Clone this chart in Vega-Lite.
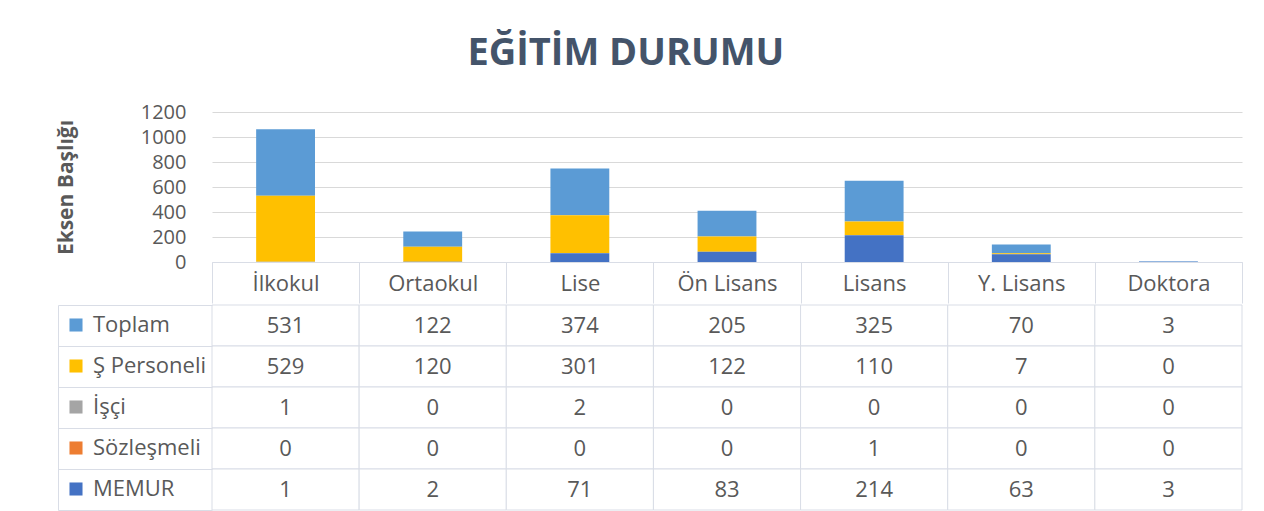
{
  "$schema": "https://vega.github.io/schema/vega-lite/v6.json",
  "background": "white",
  "padding": {"left": 55, "top": 35, "right": 20, "bottom": 0},
  "title": {"text": "EĞİTİM DURUMU", "font": "Open Sans", "fontSize": 38, "fontWeight": "bold", "color": "#44546a", "anchor": "middle", "offset": 29, "dx": -23},
  "datasets": {
    "d": [
      {"cat": "İlkokul", "series": "Toplam", "value": 531},
      {"cat": "Ortaokul", "series": "Toplam", "value": 122},
      {"cat": "Lise", "series": "Toplam", "value": 374},
      {"cat": "Ön Lisans", "series": "Toplam", "value": 205},
      {"cat": "Lisans", "series": "Toplam", "value": 325},
      {"cat": "Y. Lisans", "series": "Toplam", "value": 70},
      {"cat": "Doktora", "series": "Toplam", "value": 3},
      {"cat": "İlkokul", "series": "Ş Personeli", "value": 529},
      {"cat": "Ortaokul", "series": "Ş Personeli", "value": 120},
      {"cat": "Lise", "series": "Ş Personeli", "value": 301},
      {"cat": "Ön Lisans", "series": "Ş Personeli", "value": 122},
      {"cat": "Lisans", "series": "Ş Personeli", "value": 110},
      {"cat": "Y. Lisans", "series": "Ş Personeli", "value": 7},
      {"cat": "Doktora", "series": "Ş Personeli", "value": 0},
      {"cat": "İlkokul", "series": "İşçi", "value": 1},
      {"cat": "Ortaokul", "series": "İşçi", "value": 0},
      {"cat": "Lise", "series": "İşçi", "value": 2},
      {"cat": "Ön Lisans", "series": "İşçi", "value": 0},
      {"cat": "Lisans", "series": "İşçi", "value": 0},
      {"cat": "Y. Lisans", "series": "İşçi", "value": 0},
      {"cat": "Doktora", "series": "İşçi", "value": 0},
      {"cat": "İlkokul", "series": "Sözleşmeli", "value": 0},
      {"cat": "Ortaokul", "series": "Sözleşmeli", "value": 0},
      {"cat": "Lise", "series": "Sözleşmeli", "value": 0},
      {"cat": "Ön Lisans", "series": "Sözleşmeli", "value": 0},
      {"cat": "Lisans", "series": "Sözleşmeli", "value": 1},
      {"cat": "Y. Lisans", "series": "Sözleşmeli", "value": 0},
      {"cat": "Doktora", "series": "Sözleşmeli", "value": 0},
      {"cat": "İlkokul", "series": "MEMUR", "value": 1},
      {"cat": "Ortaokul", "series": "MEMUR", "value": 2},
      {"cat": "Lise", "series": "MEMUR", "value": 71},
      {"cat": "Ön Lisans", "series": "MEMUR", "value": 83},
      {"cat": "Lisans", "series": "MEMUR", "value": 214},
      {"cat": "Y. Lisans", "series": "MEMUR", "value": 63},
      {"cat": "Doktora", "series": "MEMUR", "value": 3}
    ],
    "ser": [
      {"series": "MEMUR", "ord": 1},
      {"series": "Sözleşmeli", "ord": 2},
      {"series": "İşçi", "ord": 3},
      {"series": "Ş Personeli", "ord": 4},
      {"series": "Toplam", "ord": 5}
    ]
  },
  "spacing": 0,
  "resolve": {"legend": {"color": "independent"}},
  "config": {
    "view": {"stroke": null},
    "font": "Open Sans",
    "axis": {"labelFont": "Open Sans", "titleFont": "Open Sans"},
    "legend": {"labelFont": "Open Sans"}
  },
  "vconcat": [
    {
      "width": 1030,
      "height": 150,
      "data": {"name": "d"},
      "transform": [
        {"lookup": "series", "from": {"data": {"name": "ser"}, "key": "series", "fields": ["ord"]}}
      ],
      "mark": {"type": "bar", "width": {"band": 0.4}},
      "encoding": {
        "x": {
          "field": "cat", "type": "nominal",
          "sort": ["İlkokul", "Ortaokul", "Lise", "Ön Lisans", "Lisans", "Y. Lisans", "Doktora"],
          "scale": {"paddingInner": 0, "paddingOuter": 0},
          "axis": {
            "title": null, "orient": "bottom", "labelAngle": 0,
            "labelFontSize": 22, "labelColor": "#595959", "labelBaseline": "middle",
            "labelPadding": -20, "tickBand": "extent", "tickSize": 41,
            "tickColor": "#d9dde6", "domainColor": "#d9dde6", "grid": false
          }
        },
        "y": {
          "field": "value", "type": "quantitative", "stack": "zero",
          "scale": {"domain": [0, 1200], "nice": false},
          "axis": {
            "values": [0, 200, 400, 600, 800, 1000, 1200], "format": "d",
            "title": "Eksen Başlığı", "titleFontSize": 21, "titleFontWeight": "bold",
            "titleColor": "#595959", "titlePadding": 64,
            "labelFontSize": 20, "labelColor": "#595959", "labelPadding": 26,
            "labelOverlap": false, "ticks": false, "domain": false,
            "gridColor": "#d9d9d9"
          }
        },
        "color": {
          "field": "series", "type": "nominal",
          "scale": {
            "domain": ["Toplam", "Ş Personeli", "İşçi", "Sözleşmeli", "MEMUR"],
            "range": ["#5b9bd5", "#ffc000", "#a5a5a5", "#ed7d31", "#4472c4"]
          },
          "legend": null
        },
        "order": {"field": "ord", "type": "quantitative"}
      }
    },
    {
      "width": 1030,
      "height": 205,
      "data": {"name": "d"},
      "encoding": {
        "x": {
          "field": "cat", "type": "nominal",
          "sort": ["İlkokul", "Ortaokul", "Lise", "Ön Lisans", "Lisans", "Y. Lisans", "Doktora"],
          "scale": {"paddingInner": 0, "paddingOuter": 0},
          "axis": null
        },
        "y": {
          "field": "series", "type": "nominal",
          "sort": ["Toplam", "Ş Personeli", "İşçi", "Sözleşmeli", "MEMUR"],
          "scale": {"paddingInner": 0, "paddingOuter": 0},
          "axis": {
            "title": null, "labels": false, "grid": false,
            "domainColor": "#d9dde6", "tickColor": "#d9dde6",
            "tickBand": "extent", "tickSize": -154, "offset": 154
          }
        }
      },
      "layer": [
        {"mark": {"type": "rect", "fill": "white", "stroke": "#d9dde6", "strokeWidth": 1}},
        {
          "mark": {"type": "text", "font": "Open Sans", "fontSize": 22, "color": "#595959", "baseline": "middle", "align": "center"},
          "encoding": {"text": {"field": "value", "type": "quantitative"}}
        },
        {
          "mark": {"type": "square", "opacity": 0},
          "encoding": {
            "color": {
              "field": "series", "type": "nominal",
              "scale": {
                "domain": ["Toplam", "Ş Personeli", "İşçi", "Sözleşmeli", "MEMUR"],
                "range": ["#5b9bd5", "#ffc000", "#a5a5a5", "#ed7d31", "#4472c4"]
              },
              "legend": {
                "orient": "left", "title": null, "symbolType": "square", "symbolSize": 170,
                "symbolOpacity": 1, "symbolStrokeWidth": 0, "labelFontSize": 22,
                "labelColor": "#595959", "rowPadding": 19, "offset": -159, "padding": 9,
                "labelOffset": 6
              }
            }
          }
        }
      ]
    }
  ]
}
